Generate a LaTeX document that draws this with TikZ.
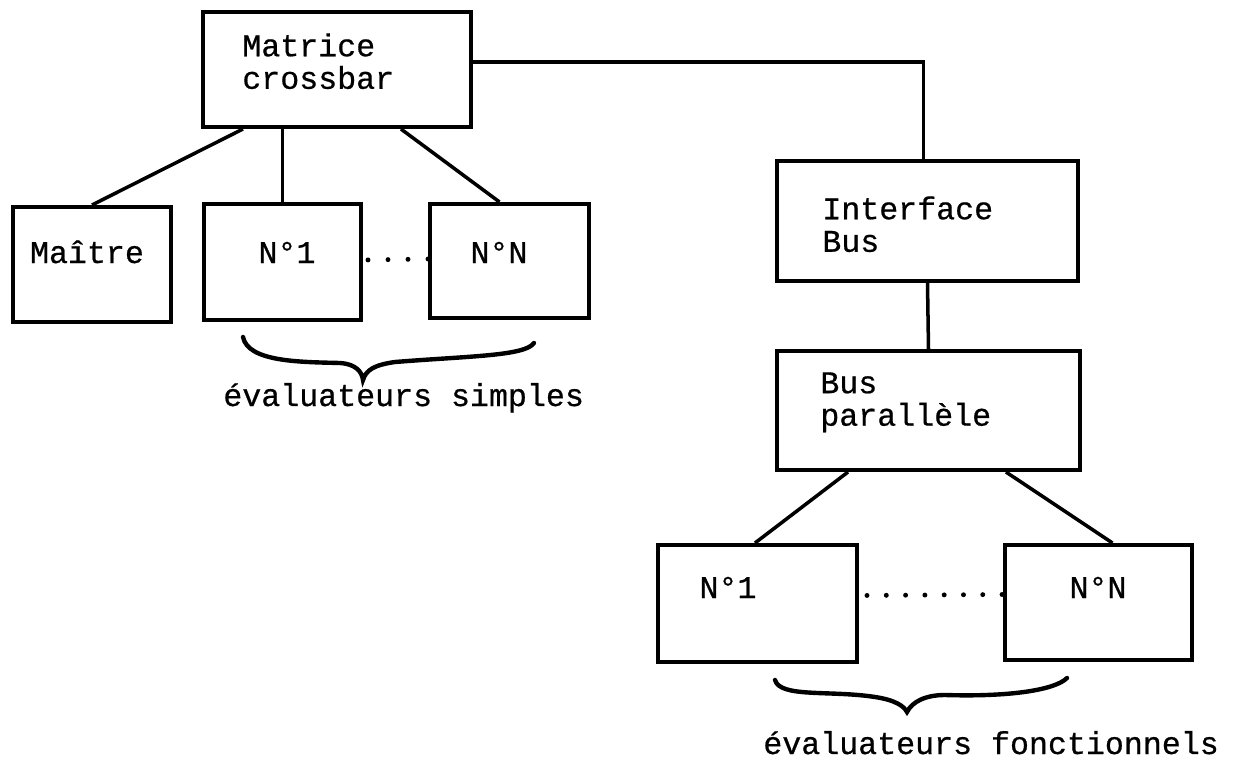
\documentclass[tikz,border=0pt]{standalone}
\usepackage{fontspec}
\newfontfamily\typew{Liberation Mono}[FakeBold=0.6]
\usepackage{tikz}

\begin{document}
\begin{tikzpicture}[x=0.02cm,y=-0.02cm,
		box/.style={draw,line width=2.3pt,inner sep=0pt},
		txt/.style={inner sep=0pt,align=left,font=\typew\fontsize{18}{18.5}\selectfont},
		link/.style={line width=2pt},
		dots/.style={line width=2.8pt,line cap=round,dash pattern=on 0pt off #1},
		brace/.style={line width=2.5pt,line cap=round}]
			\useasboundingbox (0,0) rectangle (1235,764);
			\node[box,minimum width=5.36cm,minimum height=2.3cm] (Matrice) at (337,69.5) {};
			\node[box,minimum width=3.16cm,minimum height=2.3cm] (Maitre) at (92,264.5) {};
			\node[box,minimum width=3.14cm,minimum height=2.32cm] (SimpleUn) at (282.5,262) {};
			\node[box,minimum width=3.18cm,minimum height=2.28cm] (SimpleN) at (509.5,261) {};
			\node[box,minimum width=6.02cm,minimum height=2.4cm] (Interface) at (927.5,221) {};
			\node[box,minimum width=6.06cm,minimum height=2.38cm] (BusPar) at (928.5,410.5) {};
			\node[box,minimum width=3.98cm,minimum height=2.34cm] (FonctUn) at (757.5,603.5) {};
			\node[box,minimum width=3.74cm,minimum height=2.3cm] (FonctN) at (1098.5,602.5) {};
			
			\node[txt,anchor=north west] (MatriceTxt) at (242,33) {Matrice\\crossbar};
			\node[txt,anchor=base] (MaitreTxt) at (87,263) {Maître};
			\node[txt,anchor=base] (SimpleUnTxt) at (287,263) {N°1};
			\node[txt,anchor=base] (SimpleNTxt) at (499,263) {N°N};
			\node[txt,anchor=north west] (InterfaceTxt) at (822,196) {Interface\\Bus};
			\node[txt,anchor=north west] (BusParTxt) at (820,372) {Bus\\parallèle};
			\node[txt,anchor=base] (FonctUnTxt) at (728,598) {N°1};
			\node[txt,anchor=base] (FonctNTxt) at (1098,598) {N°N};
			\node[txt,anchor=base west] (SimplesTxt) at (223,406) {évaluateurs simples};
			\node[txt,anchor=base west] (FonctTxt) at (763,754) {évaluateurs fonctionnels};
			
			\draw[link] ([yshift=0.15cm]Matrice.east) -| ([xshift=-0.08cm]Interface.north);
			\draw[link] ([xshift=0.84cm]Matrice.south west) to (Maitre.north);
			\draw[link] (SimpleUn.north) to (SimpleUn.north |- Matrice.south);
			\draw[link] ([xshift=4cm]Matrice.south west) to ([xshift=-0.2cm]SimpleN.north);
			\draw[link] (Interface.south) to (BusPar.north);
			\draw[link] ([xshift=1.46cm]BusPar.south west) to ([xshift=-0.05cm]FonctUn.north);
			\draw[link] ([xshift=4.62cm]BusPar.south west) to ([xshift=0.28cm]FonctN.north);
			\draw[dots=0.4cm,dash phase=0.3cm] ([yshift=0.04cm]SimpleUn.east) -- ([yshift=0.04cm]SimpleN.west);
			\draw[dots=0.386cm,dash phase=0.226cm] ([yshift=0.16cm]FonctUn.east) -- ([yshift=0.16cm]FonctN.west);
			
			% accolades
			\draw[brace] (243,337) .. controls (248,362) and (300,362) .. (340,363) .. controls (356,364) and (362,372) .. (363,380) .. controls (366,370) and (374,365) .. (395,362) .. controls (470,356) and (525,356) .. (534,343);
			\draw[brace] (775,680) .. controls (780,698) and (830,690) .. (875,697) .. controls (895,700) and (904,706) .. (907,712) .. controls (912,702) and (925,695) .. (945,695) .. controls (1010,697) and (1055,690) .. (1067,678);
\end{tikzpicture}
\end{document}
